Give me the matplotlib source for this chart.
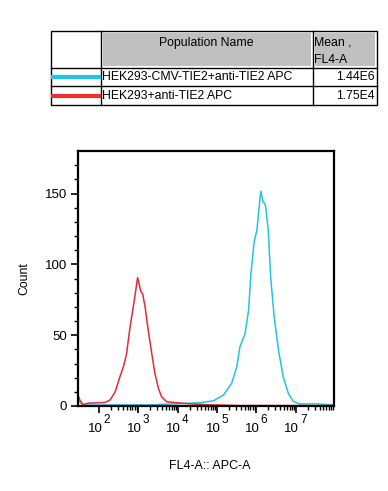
import matplotlib.pyplot as plt
import matplotlib.patches as mpatches
import matplotlib.ticker as mticker
import numpy as np

plt.rcParams['font.family'] = ['Liberation Sans', 'DejaVu Sans']

# table data
populations = ['HEK293-CMV-TIE2+anti-TIE2 APC', 'HEK293+anti-TIE2 APC']
means = ['1.44E6', '1.75E4']
colors = ['#22c4e4', '#ee3030']

# histogram data (x as log10 of FL4-A, y as count)
red_log = [1.466, 1.517, 1.593, 1.72, 1.9, 2.15, 2.28, 2.41, 2.53, 2.62, 2.70, 2.79, 2.87,
           2.92, 2.98, 3.02, 3.06, 3.11, 3.17, 3.25, 3.34, 3.42, 3.51, 3.59, 3.72, 3.98,
           4.31, 4.82, 5.58, 7.97]
red_count = [7.7, 4, 1, 2, 2.2, 2.5, 4.2, 10, 20.6, 27.7, 37, 56, 70,
             79, 90.6, 86, 81, 79, 70, 53.5, 37, 23, 12.4, 6.5, 3, 2.3,
             1.5, 0.8, 0.3, 0.3]
cyan_log = [1.466, 1.59, 3.30, 4.57, 4.91, 5.16, 5.37, 5.50, 5.58, 5.71, 5.80, 5.86, 5.94,
            6.01, 6.06, 6.11, 6.16, 6.23, 6.30, 6.36, 6.45, 6.56, 6.68, 6.81, 6.94, 7.11,
            7.49, 7.97]
cyan_count = [4, 0.7, 0.8, 2.3, 3.7, 7.7, 16, 27.7, 41.8, 51, 67.6, 93.4, 115.7,
              124, 138, 151.6, 145, 141.5, 124, 91, 63, 39.4, 20.6, 8.9, 3, 1.4,
              1.5, 0.8]
decades = [2, 3, 4, 5, 6, 7]

fig = plt.figure(figsize=(3.88, 4.91), dpi=100)

# ---- table drawn in pixel coordinates
tab = fig.add_axes([0, 0, 1, 1])
tab.set_xlim(0, 388)
tab.set_ylim(491, 0)
tab.axis('off')
L, C1, C2, R = 51, 100.7, 312.7, 377
T, H, R1, B = 30.7, 67.7, 86.3, 105
for x0, x1 in [(C1, C2), (C2, R)]:
    tab.add_patch(mpatches.Rectangle((x0 + 2, T + 2), x1 - x0 - 4, H - T - 4,
                                     facecolor='#c0c0c0', edgecolor='none'))
tab.add_patch(mpatches.Rectangle((L, T), R - L, B - T, fill=False, edgecolor='black', lw=1))
tab.plot([C1, C1], [T, B], color='black', lw=1)
tab.plot([C2, C2], [T, B], color='black', lw=1)
tab.plot([L, R], [H, H], color='black', lw=1)
tab.plot([L, R], [R1, R1], color='black', lw=1)
fs = 8.8
tab.text((C1 + C2) / 2, 42.7, 'Population Name', ha='center', va='center', fontsize=fs)
tab.text(C2 + 1.5, 42.7, 'Mean ,', ha='left', va='center', fontsize=fs)
tab.text(C2 + 1.5, 59.5, 'FL4-A', ha='left', va='center', fontsize=fs)
row_y = [(H + R1) / 2, (R1 + B) / 2]
for name, m, c, yy in zip(populations, means, colors, row_y):
    tab.plot([L, C1], [yy, yy], color=c, lw=3, solid_capstyle='butt')
    tab.text(C1 + 1.5, yy, name, ha='left', va='center', fontsize=fs)
    tab.text(R - 2, yy, m, ha='right', va='center', fontsize=fs)

# ---- histogram
ax = fig.add_axes([78 / 388, 85 / 491, 256 / 388, 255 / 491])
ax.plot(10 ** np.array(cyan_log), cyan_count, color=colors[0], lw=1.1)
ax.plot(10 ** np.array(red_log), red_count, color='#e62a3a', lw=1.1)
ax.set_xscale('log')
ax.set_xlim(10 ** 1.466, 10 ** 7.97)
ax.set_ylim(0, 180)

ax.xaxis.set_major_locator(mticker.FixedLocator([10.0 ** d for d in decades]))
minor = [k * 10.0 ** d for d in range(2, 8) for k in range(2, 10)]
ax.xaxis.set_minor_locator(mticker.FixedLocator(minor))
ax.xaxis.set_major_formatter(mticker.NullFormatter())
ax.xaxis.set_minor_formatter(mticker.NullFormatter())
for d in decades:
    ax.annotate('10', xy=(10.0 ** d, 0), xycoords=('data', 'axes fraction'),
                xytext=(2.4, -18.7), textcoords='offset points',
                ha='right', va='baseline', fontsize=9.5)
    ax.annotate(str(d), xy=(10.0 ** d, 0), xycoords=('data', 'axes fraction'),
                xytext=(3.0, -12.2), textcoords='offset points',
                ha='left', va='baseline', fontsize=8.5)

ax.set_yticks([0, 50, 100, 150])
ax.yaxis.set_minor_locator(mticker.FixedLocator(range(10, 180, 10)))
ax.tick_params(axis='both', which='major', length=5, width=1.2, labelsize=9.5, pad=3)
ax.tick_params(axis='both', which='minor', length=3, width=1)
for s in ax.spines.values():
    s.set_linewidth(1.6)

ax.set_ylabel('Count', fontsize=8.8, labelpad=10)
ax.set_xlabel('FL4-A:: APC-A', fontsize=9)
ax.xaxis.set_label_coords(0.516, -0.212)

fig.savefig('out.png', dpi=100)
